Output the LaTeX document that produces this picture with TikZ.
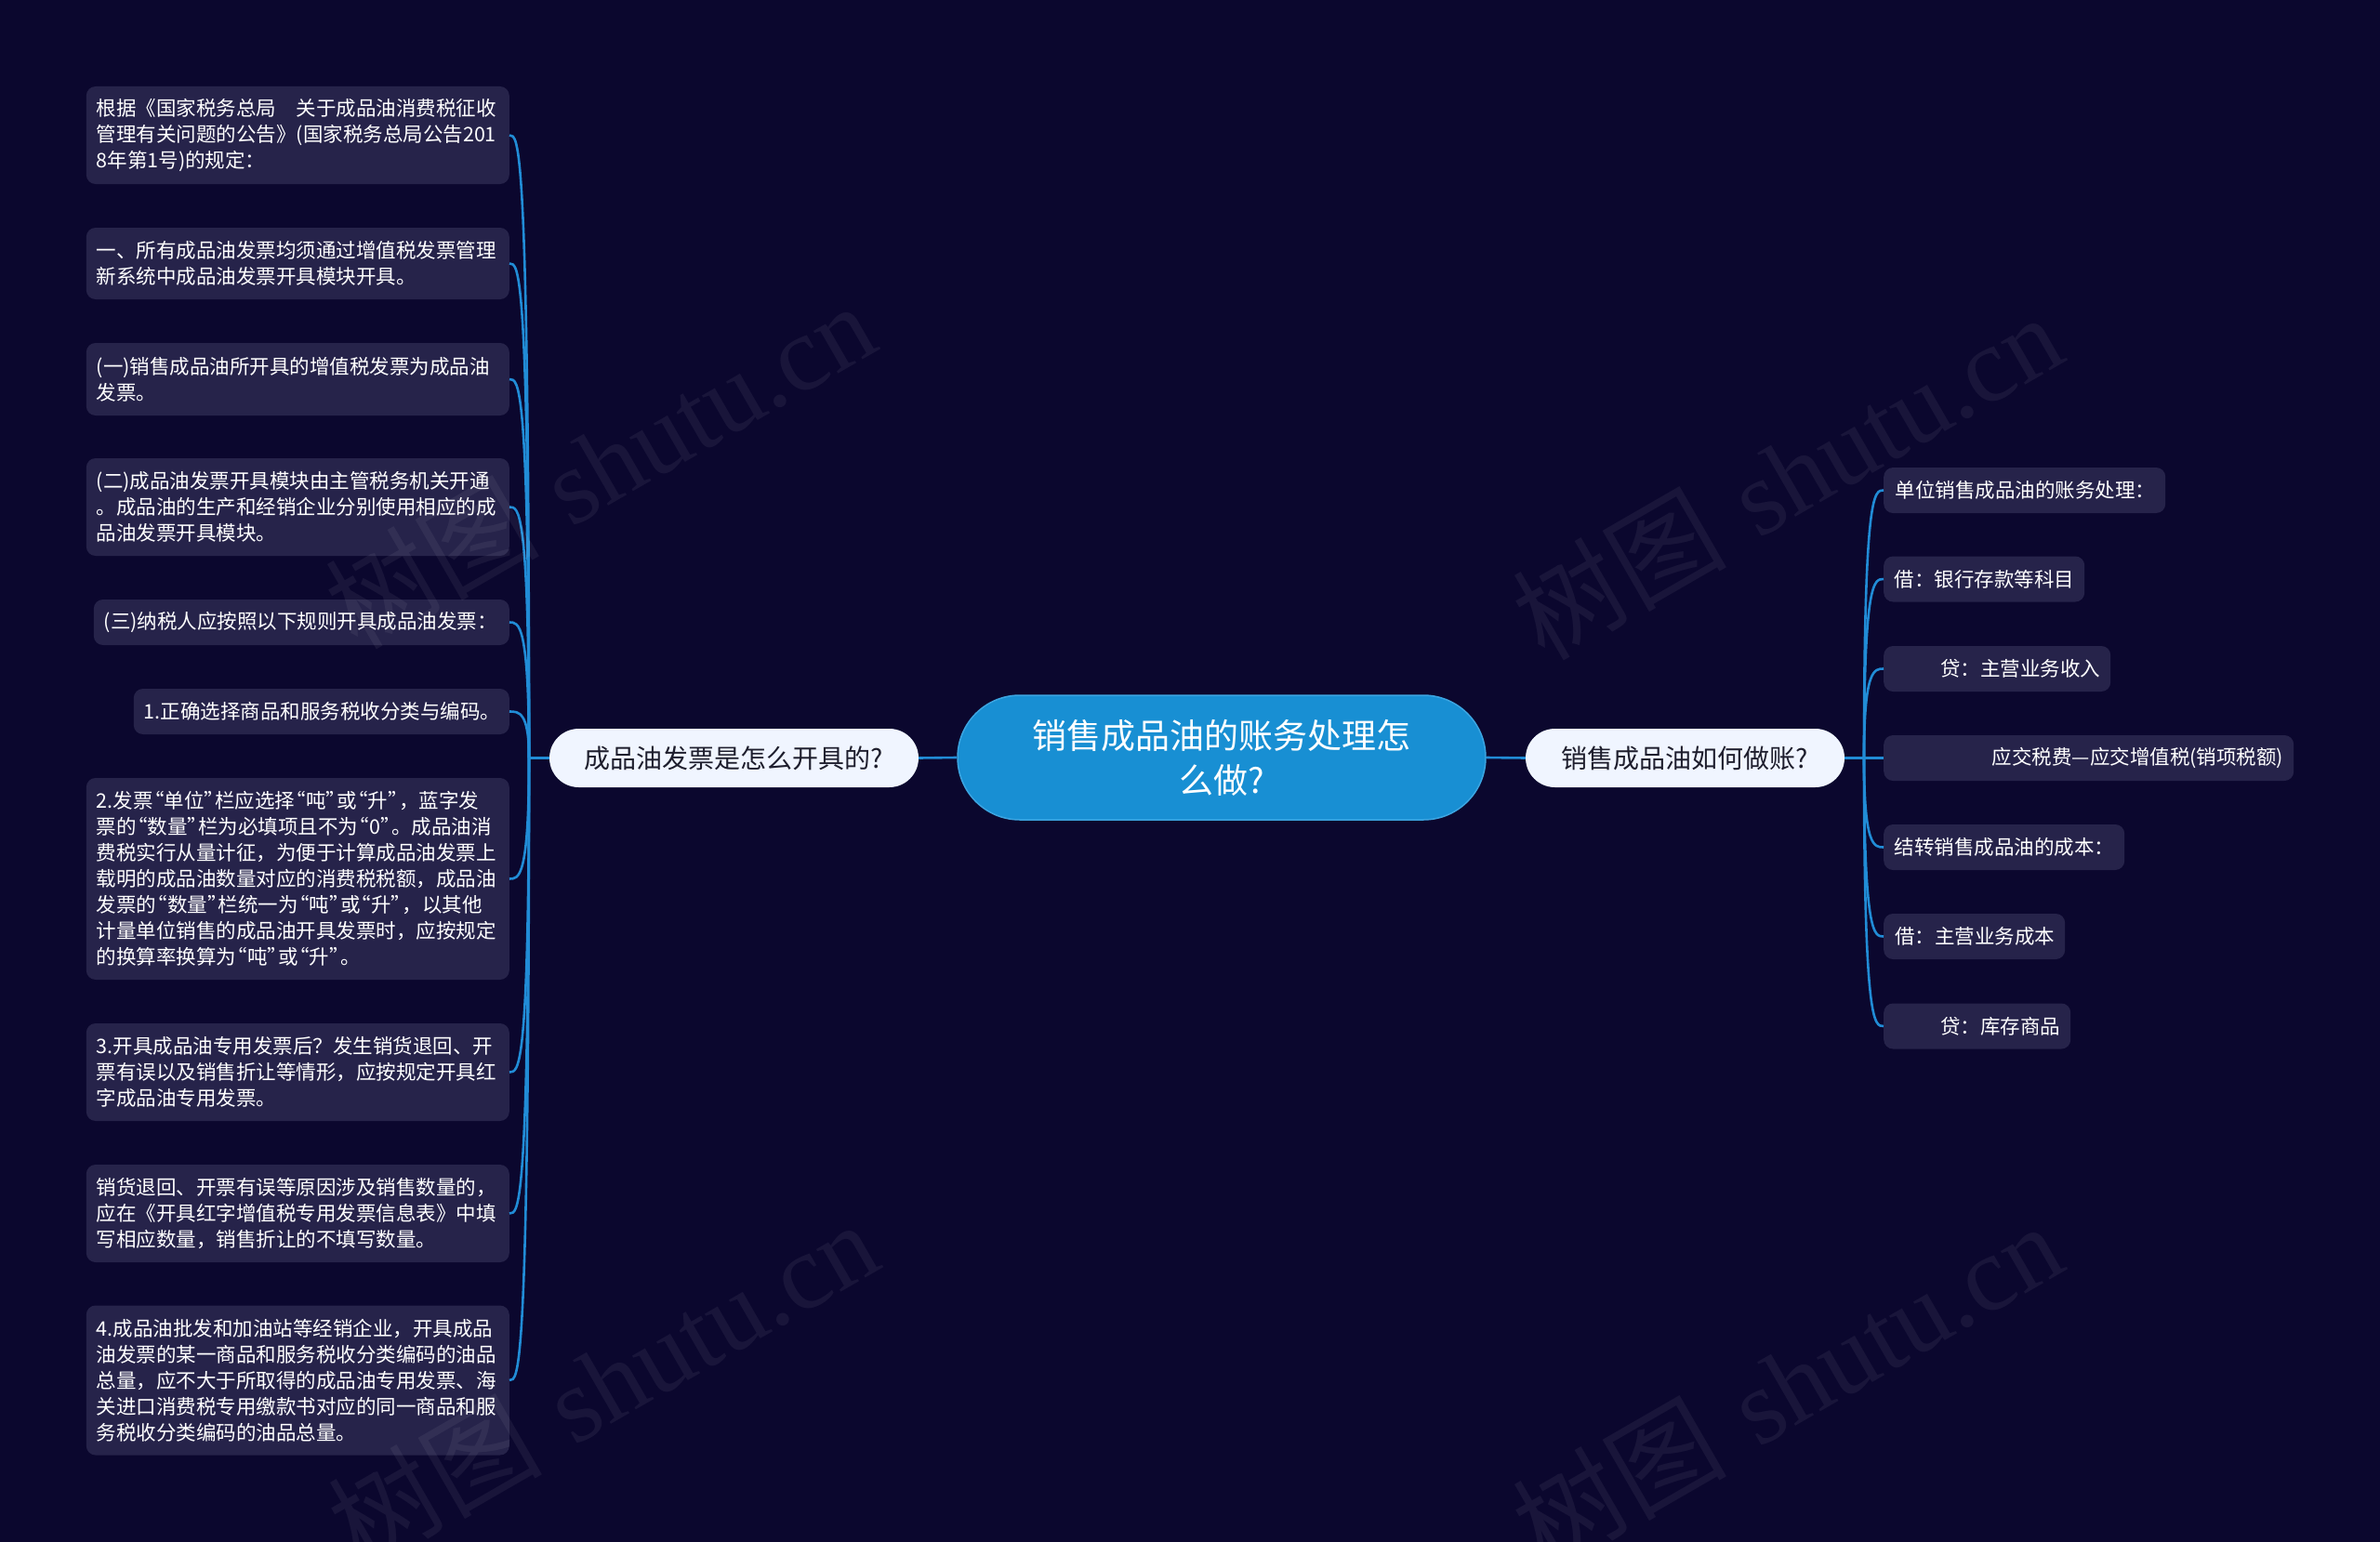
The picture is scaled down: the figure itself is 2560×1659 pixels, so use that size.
\documentclass[tikz,border=0pt]{standalone}
\usepackage{fontspec}
\newfontfamily\cjk{Noto Sans CJK SC}
\newfontfamily\wmserif{Liberation Serif}
\newcommand\myoq{\makebox[0.55em][r]{“}}
\newcommand\mycq{\makebox[0.55em][l]{”}}
\definecolor{bgc}{RGB}{11,7,46}
\definecolor{boxc}{RGB}{38,35,74}
\definecolor{linkc}{RGB}{33,140,214}
\definecolor{centc}{RGB}{24,143,211}
\definecolor{centb}{RGB}{60,165,225}
\definecolor{nodec}{RGB}{240,245,255}
\definecolor{nodet}{RGB}{30,30,45}
\begin{document}
\begin{tikzpicture}[x=1pt,y=-1pt,
  lbox/.style={fill=boxc, rounded corners=10pt, inner xsep=11pt, inner ysep=0pt, text=white,
    font=\cjk\fontsize{21.5}{28}\selectfont, align=left, anchor=east},
  rbox/.style={fill=boxc, rounded corners=10pt, inner xsep=11pt, inner ysep=0pt, text=white,
    font=\cjk\fontsize{21.5}{28}\selectfont, align=right, anchor=west, minimum height=49pt},
  midnode/.style={fill=nodec, rounded corners=31.5pt, minimum height=63pt, inner sep=0pt,
    text=nodet, font=\cjk\fontsize{28}{34}\selectfont},
  link/.style={draw=linkc, line width=2.6pt},
  wm/.style={rotate=30, text=white, text opacity=0.06, font=\fontsize{115}{115}\selectfont, inner sep=0pt}
]
\useasboundingbox (0,0) rectangle (2560,1659);
\fill[bgc] (0,0) rectangle (2560,1659);

% central and main nodes
\node[fill=centc, draw=centb, line width=1.5pt, rounded corners=67pt, minimum width=568pt,
  minimum height=134pt, inner sep=0pt, text=white, font=\cjk\fontsize{37}{48}\selectfont,
  align=center] (C) at (1314,815) {销售成品油的账务处理怎\\么做?};
\node[midnode, minimum width=397pt] (lnode) at (789.5,815.5) {成品油发票是怎么开具的?};
\node[midnode, minimum width=343pt] (rnode) at (1812.5,815.5) {销售成品油如何做账?};

% left boxes
\node[lbox, text width=433pt, minimum height=105pt] (L1) at (548,145.5)
  {根据《国家税务总局　关于成品油消费税征收\\管理有关问题的公告》(国家税务总局公告201\\8年第1号)的规定：};
\node[lbox, text width=433pt, minimum height=77pt] (L2) at (548,283.5)
  {一、所有成品油发票均须通过增值税发票管理\\新系统中成品油发票开具模块开具。};
\node[lbox, text width=433pt, minimum height=78pt] (L3) at (548,408)
  {(一)销售成品油所开具的增值税发票为成品油\\发票。};
\node[lbox, text width=433pt, minimum height=105pt] (L4) at (548,545.5)
  {(二)成品油发票开具模块由主管税务机关开通\\。成品油的生产和经销企业分别使用相应的成\\品油发票开具模块。};
\node[lbox, text width=425pt, minimum height=49pt] (L5) at (548,669.5)
  {(三)纳税人应按照以下规则开具成品油发票：};
\node[lbox, text width=382pt, minimum height=49pt] (L6) at (548,765.5)
  {1.正确选择商品和服务税收分类与编码。};
\node[lbox, text width=433pt, minimum height=217pt] (L7) at (548,945.5)
  {2.发票\myoq 单位\mycq 栏应选择\myoq 吨\mycq 或\myoq 升\mycq ，蓝字发\\票的\myoq 数量\mycq 栏为必填项且不为\myoq 0\mycq 。成品油消\\费税实行从量计征，为便于计算成品油发票上\\载明的成品油数量对应的消费税税额，成品油\\发票的\myoq 数量\mycq 栏统一为\myoq 吨\mycq 或\myoq 升\mycq ，以其他\\计量单位销售的成品油开具发票时，应按规定\\的换算率换算为\myoq 吨\mycq 或\myoq 升\mycq 。};
\node[lbox, text width=433pt, minimum height=105pt] (L8) at (548,1153.5)
  {3.开具成品油专用发票后？发生销货退回、开\\票有误以及销售折让等情形，应按规定开具红\\字成品油专用发票。};
\node[lbox, text width=433pt, minimum height=105pt] (L9) at (548,1305.5)
  {销货退回、开票有误等原因涉及销售数量的，\\应在《开具红字增值税专用发票信息表》中填\\写相应数量，销售折让的不填写数量。};
\node[lbox, text width=433pt, minimum height=161pt] (L10) at (548,1485)
  {4.成品油批发和加油站等经销企业，开具成品\\油发票的某一商品和服务税收分类编码的油品\\总量，应不大于所取得的成品油专用发票、海\\关进口消费税专用缴款书对应的同一商品和服\\务税收分类编码的油品总量。};

% right boxes
\node[rbox, text width=281pt] (R1) at (2026,527.5) {单位销售成品油的账务处理：};
\node[rbox, text width=194pt] (R2) at (2026,623) {借：银行存款等科目};
\node[rbox, text width=222pt] (R3) at (2026,719.5) {贷：主营业务收入};
\node[rbox, text width=419pt] (R4) at (2026,815.5) {应交税费—应交增值税(销项税额)};
\node[rbox, text width=237pt] (R5) at (2026,911.5) {结转销售成品油的成本：};
\node[rbox, text width=173pt] (R6) at (2026,1007.5) {借：主营业务成本};
\node[rbox, text width=179pt] (R7) at (2026,1104) {贷：库存商品};

% connectors
\coordinate (lt) at (569,815.5);
\coordinate (rt) at (2005,815.5);
\draw[link] (C.west) -- (lnode.east);
\draw[link] (C.east) -- (rnode.west);
\draw[link] (lnode.west) -- (lt);
\foreach \n in {L1,L2,L3,L4,L5,L6,L7,L8,L9,L10}
  \draw[link] (lt) .. controls (lt |- \n.east) and ([xshift=10pt]\n.east) .. (\n.east);
\draw[link] (rnode.east) -- (R4.west);
\foreach \n in {R1,R2,R3,R5,R6,R7}
  \draw[link] (rt) .. controls (rt |- \n.west) and ([xshift=-10pt]\n.west) .. (\n.west);

% watermarks
\node[wm] (wm1) at (645,500) {{\cjk 树图} {\wmserif shutu.cn}};
\node[wm] (wm2) at (1922,512) {{\cjk 树图} {\wmserif shutu.cn}};
\node[wm] (wm3) at (648,1488) {{\cjk 树图} {\wmserif shutu.cn}};
\node[wm] (wm4) at (1922,1490) {{\cjk 树图} {\wmserif shutu.cn}};
\end{tikzpicture}
\end{document}
